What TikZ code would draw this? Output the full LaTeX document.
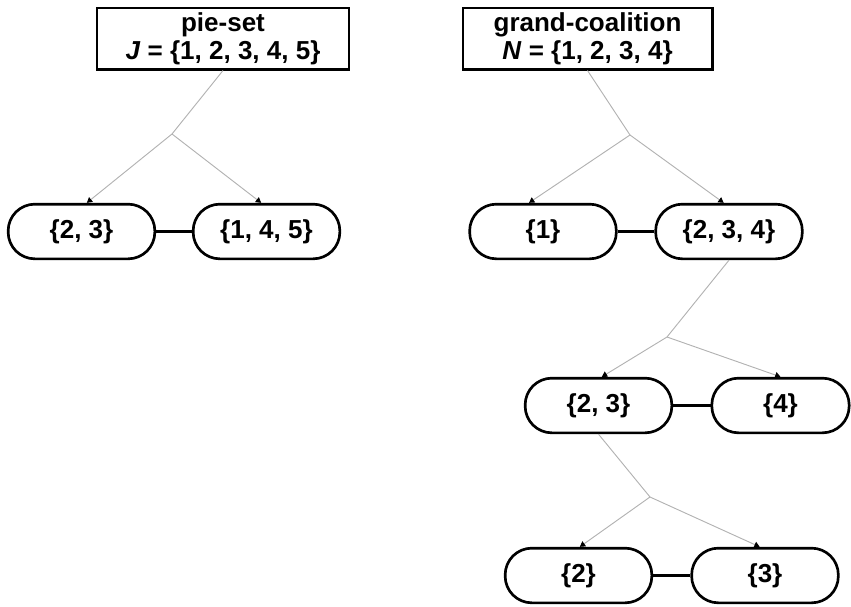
\documentclass[tikz,border=0pt]{standalone}
\usepackage{fontspec}
\setmainfont{Liberation Sans}
\usepackage{tikz}
\usetikzlibrary{arrows.meta}

\tikzset{
	setbox/.style={draw, line width=2pt, fill=white, inner sep=0pt, align=center,
		minimum height=46pt, font=\bfseries\fontsize{19.5}{21}\selectfont},
	part/.style={draw, line width=2pt, rounded corners=20pt, inner sep=0pt,
		minimum width=110pt, minimum height=41pt, font=\bfseries\fontsize{19.5}{21}\selectfont},
	pair/.style={line width=2.2pt},
	split/.style={gray!60, line width=0.7pt},
	splitarr/.style={split, -{Triangle[length=4pt,width=4.5pt,black]}}
}

\begin{document}
\begin{tikzpicture}[x=0.75pt,y=-0.75pt]
		\useasboundingbox (0,0) rectangle (851,607);
		% pie-set
		\node[setbox, minimum width=189pt] (pie) at (223,38.5) {pie-set\\\textit{J} = \{1, 2, 3, 4, 5\}};
		\node[part] (p23) at (81.5,231.5) {\{2, 3\}};
		\node[part] (p145) at (266.5,231.5) {\{1, 4, 5\}};
		\coordinate (pb) at (172,134);
		\draw[pair] (p23) -- (p145);
		\draw[split] (pie.south) -- (pb);
		\draw[splitarr] (pb) -- ([xshift=4pt]p23.north);
		\draw[splitarr] (pb) -- ([xshift=-4pt]p145.north);
		% grand-coalition
		\node[setbox, minimum width=187pt] (grand) at (587.5,38.5) {grand-coalition\\\textit{N} = \{1, 2, 3, 4\}};
		\node[part] (g1) at (543,231.5) {\{1\}};
		\node[part] (g234) at (729,231.5) {\{2, 3, 4\}};
		\node[part] (g23) at (598.5,405.5) {\{2, 3\}};
		\node[part, minimum width=103pt] (g4) at (780.5,405.5) {\{4\}};
		\node[part] (g2) at (578.5,575.5) {\{2\}};
		\node[part] (g3) at (765,575.5) {\{3\}};
		\coordinate (gb1) at (630,135);
		\coordinate (gb2) at (667,337);
		\coordinate (gb3) at (650,497);
		\draw[pair] (g1) -- (g234);
		\draw[pair] (g23) -- (g4);
		\draw[pair] (g2) -- (g3);
		\draw[split] (grand.south) -- (gb1);
		\draw[splitarr] (gb1) -- ([xshift=-10.5pt]g1.north);
		\draw[splitarr] (gb1) -- ([xshift=-4pt]g234.north);
		\draw[split] (g234.south) -- (gb2);
		\draw[splitarr] (gb2) -- ([xshift=2.5pt]g23.north);
		\draw[splitarr] (gb2) -- (g4.north);
		\draw[split] (g23.south) -- (gb3);
		\draw[splitarr] (gb3) -- ([xshift=1pt]g2.north);
		\draw[splitarr] (gb3) -- ([xshift=-4pt]g3.north);
	\end{tikzpicture}
\end{document}
